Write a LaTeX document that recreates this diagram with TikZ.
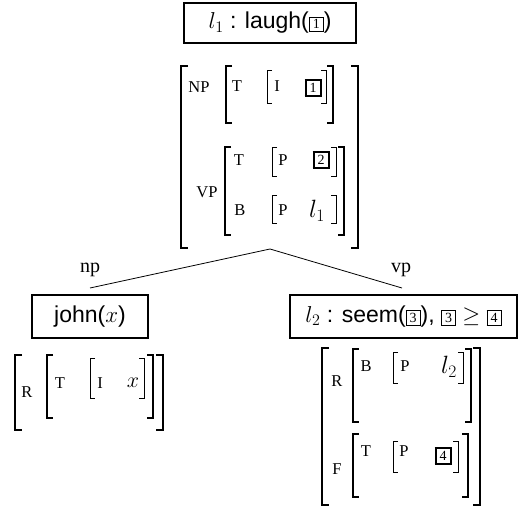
\RequirePackage{fix-cm}
\documentclass[tikz,border=0pt]{standalone}
\usepackage{fontspec}
\setmainfont{Liberation Serif}
\newfontfamily\boxfont{Liberation Sans}
\newcommand{\bxa}[1]{{\setlength{\fboxsep}{2.2pt}\setlength{\fboxrule}{1pt}\fbox{\fontsize{14}{14}\selectfont\rmfamily\makebox[8.5pt]{#1}}}}
\newcommand{\bxb}[1]{{\setlength{\fboxsep}{2pt}\setlength{\fboxrule}{2pt}\fbox{\fontsize{14}{14}\selectfont\rmfamily\makebox[9pt]{#1}}}}
\newcommand{\avmbrk}[6]{%
  \draw[#1] (#2+#6,#4) -- (#2,#4) -- (#2,#5) -- (#2+#6,#5);
  \draw[#1] (#3-#6,#4) -- (#3,#4) -- (#3,#5) -- (#3-#6,#5);}
\tikzset{
  predbox/.style={draw, line width=2pt, font=\boxfont\fontsize{23}{26}\selectfont, inner sep=0pt},
  avmlab/.style={font=\fontsize{16.5}{18}\selectfont, inner sep=0pt},
  avmval/.style={font=\fontsize{25}{27}\selectfont, inner sep=0pt},
  treelab/.style={font=\fontsize{20}{22}\selectfont, inner sep=0pt},
  outerb/.style={line width=2.2pt},
  midb/.style={line width=1.5pt},
  innb/.style={line width=0.9pt},
  branch/.style={line width=0.8pt}
}
\begin{document}
\begin{tikzpicture}[x=1pt,y=-1pt]
\useasboundingbox (0,0) rectangle (528,511);
% top box
\node[predbox, minimum width=172pt, minimum height=40pt] (topbox) at (270,23) {$l_1$ : laugh(\bxa{1})};
% top AVM
\avmbrk{outerb}{181}{358}{66}{248}{7}
\avmbrk{midb}{226}{333}{66}{123}{6}
\avmbrk{innb}{267}{326}{70}{103}{5}
\avmbrk{midb}{225}{344}{147}{235}{6}
\avmbrk{innb}{272}{336}{147}{176}{5}
\avmbrk{innb}{272}{336}{195}{223}{5}
\node[avmlab] (np) at (199,87) {NP};
\node[avmlab] (npt) at (237,86) {T};
\node[avmlab] (npi) at (277,86) {I};
\node[inner sep=0pt] (b1) at (313,88) {\bxb{1}};
\node[avmlab] (vp) at (207,192) {VP};
\node[avmlab] (vpt) at (239,160) {T};
\node[avmlab] (vptp) at (283,160) {P};
\node[inner sep=0pt] (b2) at (321,160) {\bxb{2}};
\node[avmlab] (vpb) at (240,210) {B};
\node[avmlab] (vpbp) at (283,210) {P};
\node[avmval] (l1) at (317,211) {$l_1$};
\coordinate (apex) at (270,249);
% left
\node[predbox, minimum width=116pt, minimum height=43pt] (john) at (90,316.5) {john($x$)};
\node[treelab] (nplab) at (90,270) {np};
\avmbrk{outerb}{15}{163}{355}{430}{7}
\avmbrk{midb}{47}{153}{355}{418}{6}
\avmbrk{innb}{90}{144}{358}{398}{5}
\node[avmlab] (lr) at (27,392) {R};
\node[avmlab] (lt) at (60,383) {T};
\node[avmlab] (li) at (100,383) {I};
\node[avmval, font=\fontsize{22}{24}\selectfont] (lx) at (133,383) {$x$};
% right
\node[predbox, minimum width=227pt, minimum height=43pt] (seem) at (403.5,316.5) {$l_2$ : seem(\bxa{3}), $\bxa{3}\geq\bxa{4}$};
\node[treelab] (vplab) at (401,270) {vp};
\avmbrk{outerb}{322}{480}{348}{505}{7}
\avmbrk{midb}{353}{471}{349}{422}{6}
\avmbrk{innb}{393}{463}{352}{383}{5}
\avmbrk{midb}{353}{468}{434}{497}{6}
\avmbrk{innb}{393}{458}{441}{472}{5}
\node[avmlab] (rr) at (337,381) {R};
\node[avmlab] (rb) at (366,366) {B};
\node[avmlab] (rbp) at (405,366) {P};
\node[avmval] (l2) at (449,367) {$l_2$};
\node[avmlab] (rf) at (337,469) {F};
\node[avmlab] (rt) at (366,451) {T};
\node[avmlab] (rtp) at (404,451) {P};
\node[inner sep=0pt] (b4) at (443,456) {\bxb{4}};
% branches
\draw[branch] (apex) -- ([yshift=6pt]john.north);
\draw[branch] (apex) -- ([yshift=6pt,xshift=-1.5pt]seem.north);
\end{tikzpicture}
\end{document}
